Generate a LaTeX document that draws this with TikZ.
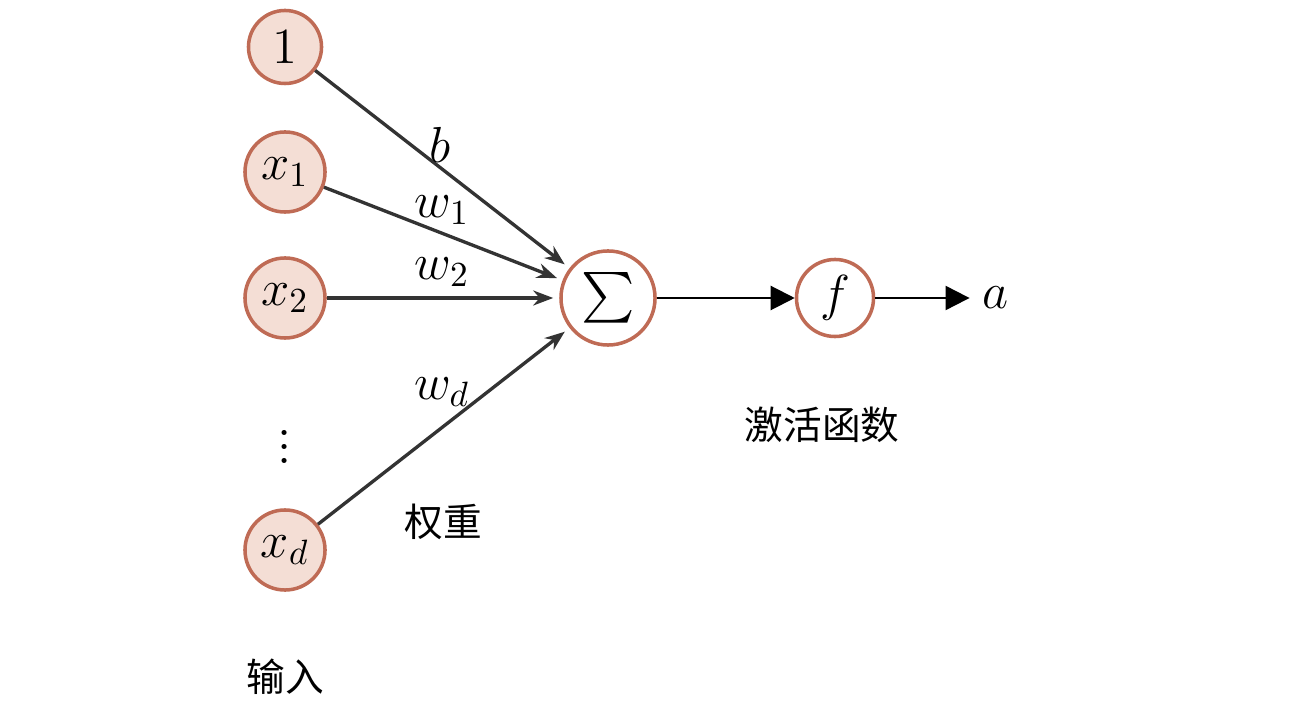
\documentclass[tikz,border=0pt]{standalone}
\usepackage{fontspec}
\usepackage{amsmath}
\newfontfamily\cjk{Noto Sans CJK SC}
\usetikzlibrary{arrows.meta}
\definecolor{nodefill}{HTML}{F4DED5}
\definecolor{nodeline}{HTML}{BF6B55}

\begin{document}
\begin{tikzpicture}[x=0.01cm,y=-0.01cm,font=\fontsize{14.8}{18}\selectfont,
        input/.style={circle,draw=nodeline,fill=nodefill,line width=1pt,minimum size=0.8cm,inner sep=0pt},
        unit/.style={circle,draw=nodeline,line width=1pt,inner sep=0pt},
        weight/.style={-{Stealth[length=0.2cm,width=0.15cm]},line width=0.95pt,draw=black!80,shorten >=0.06cm},
        signal/.style={-{Triangle[length=0.24cm,width=0.24cm]},semithick},
        cjklabel/.style={font=\cjk\fontsize{11}{13}\selectfont}]
        \useasboundingbox (0,0) rectangle (1289,725);
        % Inputs on the left.
            \node[input,minimum size=0.73cm] (bias) at (285,47) {$1$};
            \node[input] (x1) at (285,172) {$x_1$};
            \node[input] (x2) at (285,298) {$x_2$};
            \node[] (dots) at (285,436) {$\vdots$};
            \node[input] (xd) at (285,550) {$x_d$};
        % Sum, activation and output.
            \node[unit,minimum size=0.94cm] (sum) at (608,298) {$\sum$};
            \node[unit,minimum size=0.77cm] (act) at (835,298) {$f$};
            \node[] (out) at (995,298) {$a$};
        % Weighted connections.
            \draw[weight] (bias) -- (sum);
            \draw[weight] (x1) -- (sum);
            \draw[weight] (x2) -- (sum);
            \draw[weight] (xd) -- (sum);
            \draw[signal] (sum) -- (act);
            \draw[signal] (act) -- (out);
        % Below nodes are the labels.
            \node[] (lb) at (440,145) {$b$};
            \node[] (lw1) at (442,210) {$w_1$};
            \node[] (lw2) at (442,272) {$w_2$};
            \node[] (lwd) at (442,392) {$w_d$};
            \node[cjklabel] (lweight) at (443,522) {权重};
            \node[cjklabel] (lact) at (822,425) {激活函数};
            \node[cjklabel] (lin) at (285,677) {输入};
    \end{tikzpicture}
\end{document}
